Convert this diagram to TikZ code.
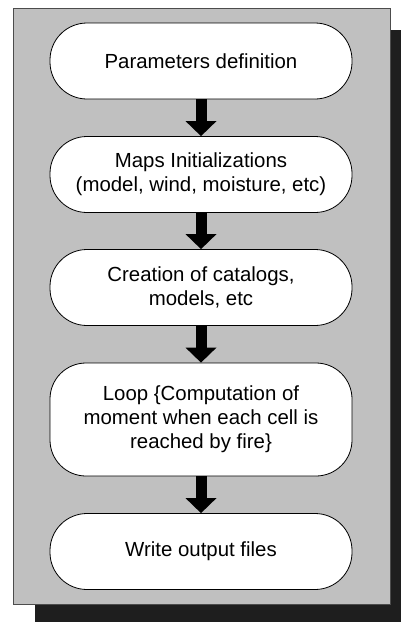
\documentclass[tikz,border=0pt]{standalone}
\usepackage{fontspec}
\setmainfont{Liberation Sans}
\usetikzlibrary{arrows.meta}
\definecolor{panelgray}{RGB}{192,192,192}
\definecolor{shadowblack}{RGB}{30,30,30}
\begin{document}
\begin{tikzpicture}[x=1pt,y=-1pt,
  stepbox/.style={draw=black, line width=0.8pt, fill=white, rounded corners=37pt,
    minimum width=302pt, minimum height=76pt, inner sep=0pt, align=center,
    font=\fontsize{20.4}{24}\selectfont},
  flow/.style={line width=11pt, draw=black,
    -{Triangle[width=31pt,length=15pt,line width=0pt]}}]
  \useasboundingbox (0,0) rectangle (401,622);
  % drop shadow and grey panel
  \fill[shadowblack] (35,30) rectangle (401,622);
  \filldraw[fill=panelgray, draw=black!70, line width=0.7pt] (13,8) rectangle (390,604);
  % process steps
  \node[stepbox] (p1) at (201,61) {Parameters definition};
  \node[stepbox] (p2) at (201,174.5) {Maps Initializations\\(model, wind, moisture, etc)};
  \node[stepbox] (p3) at (201,287.5) {Creation of catalogs,\\models, etc};
  \node[stepbox, minimum height=113pt, rounded corners=36pt] (p4) at (201,419.5)
    {Loop \{Computation of\\moment when each cell is\\reached by fire\}};
  \node[stepbox] (p5) at (201,551.5) {Write output files};
  % block arrows between steps
  \draw[flow] (p1.south) -- (p2.north);
  \draw[flow] (p2.south) -- (p3.north);
  \draw[flow] (p3.south) -- (p4.north);
  \draw[flow] (p4.south) -- (p5.north);
\end{tikzpicture}
\end{document}
